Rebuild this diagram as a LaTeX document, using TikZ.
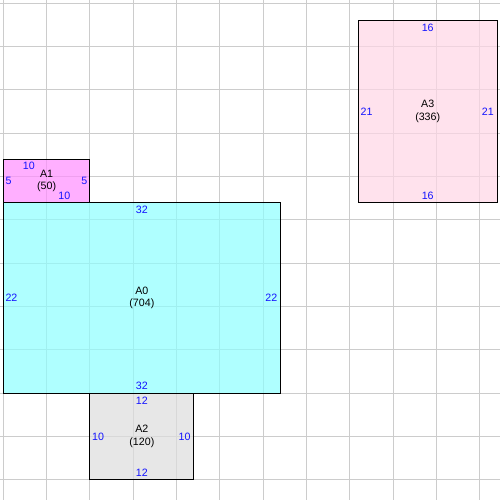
\documentclass[tikz,border=0pt]{standalone}
\usepackage{fontspec}
\setmainfont{Liberation Sans}
\usepackage{xcolor}
\usetikzlibrary{positioning}
\definecolor{roomcyan}{RGB}{142,255,255}
\definecolor{roommagenta}{RGB}{255,142,255}
\definecolor{roomgray}{RGB}{222,222,222}
\definecolor{roompink}{RGB}{255,214,230}
\definecolor{sideblue}{RGB}{20,20,255}
\tikzset{
  gridline/.style={gray!40, line width=0.9pt},
  room/.style={draw=black, line width=0.9pt, fill opacity=0.7, text opacity=1,
    inner sep=0pt, outer sep=0pt, align=center,
    font=\fontsize{10.5}{12.5}\selectfont},
  side/.style={text=sideblue, inner sep=0pt, font=\fontsize{10.5}{12}\selectfont}
}

\begin{document}
\begin{tikzpicture}[x=3mm, y=-3mm]
\useasboundingbox (-0.38,-0.38) rectangle (57.35,57.35);
\fill[white] (-0.38,-0.38) rectangle (57.35,57.35);
% grid every 5 cells
\foreach \k in {0,5,...,55} {
  \draw[gridline] (\k,-0.38) -- (\k,57.35);
  \draw[gridline] (-0.38,\k) -- (57.35,\k);
}
% rooms
\node[room, fill=roomcyan, minimum width=32*3mm, minimum height=22*3mm] (a0) at (16,34) {A0\\(704)};
\node[room, fill=roommagenta, minimum width=10*3mm, minimum height=5*3mm] (a1) at (5,20.5) {A1\\(50)};
\node[room, fill=roomgray, minimum width=12*3mm, minimum height=10*3mm] (a2) at (16,50) {A2\\(120)};
\node[room, fill=roompink, minimum width=16*3mm, minimum height=21*3mm] (a3) at (49,12.5) {A3\\(336)};
% side lengths
\node[side, below=3pt of a0.north] (a0t) {32};
\node[side, above=3.5pt of a0.south] (a0b) {32};
\node[side, right=2pt of a0.west] (a0l) {22};
\node[side, left=3pt of a0.east] (a0r) {22};
\node[side, below=3pt of a1.north, xshift=-17.5pt] (a1t) {10};
\node[side, above=3pt of a1.south, xshift=17.5pt] (a1b) {10};
\node[side, right=2pt of a1.west] (a1l) {5};
\node[side, left=2.3pt of a1.east] (a1r) {5};
\node[side, below=3.5pt of a2.north] (a2t) {12};
\node[side, above=3.3pt of a2.south] (a2b) {12};
\node[side, right=2pt of a2.west] (a2l) {10};
\node[side, left=3pt of a2.east] (a2r) {10};
\node[side, below=3pt of a3.north] (a3t) {16};
\node[side, above=3pt of a3.south] (a3b) {16};
\node[side, right=2pt of a3.west] (a3l) {21};
\node[side, left=3pt of a3.east] (a3r) {21};
\end{tikzpicture}
\end{document}
